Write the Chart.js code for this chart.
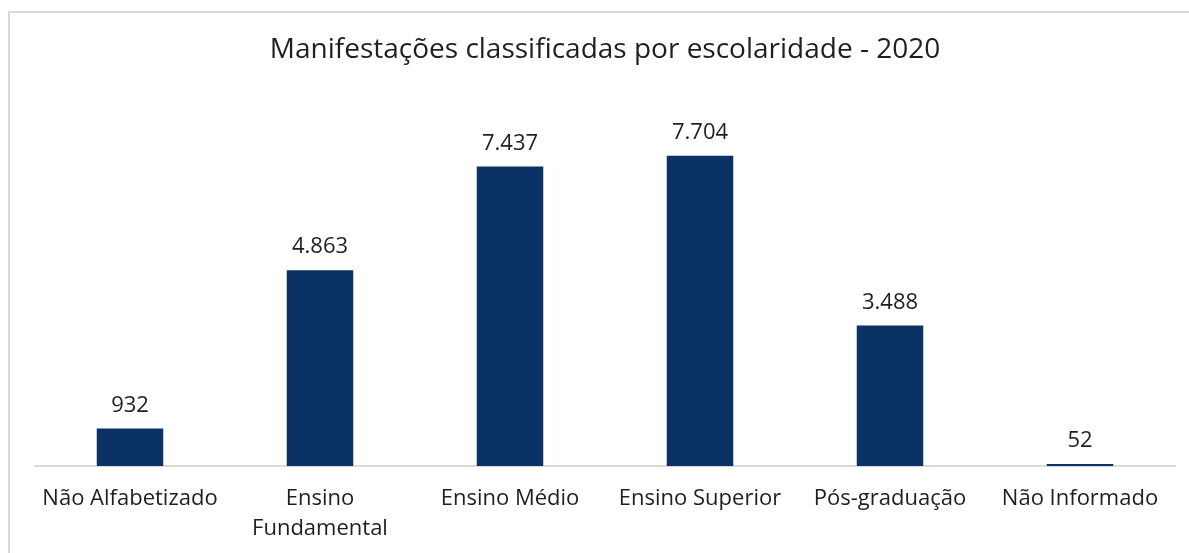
<!DOCTYPE html>
<html><head><meta charset="utf-8">
<script src="https://cdn.jsdelivr.net/npm/chart.js@4/dist/chart.umd.min.js"></script>
<style>html,body{margin:0;padding:0;background:#fff;}canvas{display:block;}</style>
</head><body>
<canvas id="c" width="1189" height="553"></canvas>
<script>
const categories = ["Não Alfabetizado", ["Ensino", "Fundamental"], "Ensino Médio", "Ensino Superior", "Pós-graduação", "Não Informado"];
const values = [932, 4863, 7437, 7704, 3488, 52];
const titleText = "Manifestações classificadas por escolaridade - 2020";
const FONT = "'Open Sans'";

const fmt = v => v.toString().replace(/\B(?=(\d{3})+(?!\d))/g, ".");

const borderPlugin = {
  id: 'frame',
  beforeDraw(chart) {
    const ctx = chart.ctx;
    ctx.save();
    ctx.fillStyle = '#fff';
    ctx.fillRect(0, 0, chart.width, chart.height);
    ctx.strokeStyle = '#d9d9d9';
    ctx.lineWidth = 2;
    ctx.strokeRect(9, 12, chart.width + 20, chart.height + 20);
    ctx.restore();
  }
};
const labelPlugin = {
  id: 'valueLabels',
  afterDatasetsDraw(chart) {
    const ctx = chart.ctx;
    const meta = chart.getDatasetMeta(0);
    ctx.save();
    ctx.font = `22px ${FONT}`;
    ctx.fillStyle = '#1f1f1f';
    ctx.textAlign = 'center';
    ctx.textBaseline = 'middle';
    meta.data.forEach((bar, i) => {
      ctx.fillText(fmt(chart.data.datasets[0].data[i]), bar.x, bar.y - 23);
    });
    ctx.restore();
  }
};

new Chart(document.getElementById('c'), {
  type: 'bar',
  data: {
    labels: categories,
    datasets: [{
      data: values,
      backgroundColor: '#0b3264',
      categoryPercentage: 1,
      barPercentage: 0.35
    }]
  },
  options: {
    responsive: false,
    animation: false,
    layout: { padding: { left: 35, right: 14, top: 0, bottom: -9 } },
    plugins: {
      legend: { display: false },
      tooltip: { enabled: false },
      title: {
        display: true,
        text: titleText,
        color: '#1f1f1f',
        font: { family: FONT, size: 28, weight: 'normal', lineHeight: 1.2 },
        padding: { top: 33, bottom: 37 }
      }
    },
    scales: {
      x: {
        grid: { display: false, drawTicks: false },
        border: { display: true, color: '#d9d9d9', width: 2 },
        ticks: {
          color: '#1f1f1f',
          font: { family: FONT, size: 22, lineHeight: 30 / 22 },
          padding: 18,
          maxRotation: 0,
          autoSkip: false
        }
      },
      y: {
        display: false,
        min: 0,
        max: 9000
      }
    }
  },
  plugins: [borderPlugin, labelPlugin]
});
</script>
</body></html>
